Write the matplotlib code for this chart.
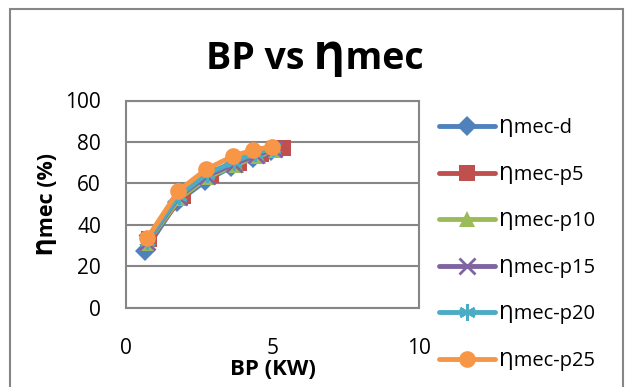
import matplotlib
matplotlib.use('Agg')
import matplotlib.pyplot as plt
from matplotlib.patches import Rectangle

plt.rcParams['font.family'] = ['Open Sans', 'DejaVu Sans']

# brake power (KW) and mechanical efficiency (%) for each fuel blend
bp_d = [0.65, 1.75, 2.70, 3.60, 4.35, 4.95]
eff_d = [27.5, 51.0, 61.0, 68.0, 72.0, 75.5]
bp_p5 = [0.80, 1.95, 2.90, 3.85, 4.60, 5.35]
eff_p5 = [33.0, 54.0, 64.0, 70.0, 74.0, 77.0]
bp_p10 = [0.70, 1.85, 2.80, 3.75, 4.50, 5.10]
eff_p10 = [31.0, 53.0, 63.0, 69.0, 73.0, 76.0]
bp_p15 = [0.70, 1.80, 2.75, 3.70, 4.45, 5.05]
eff_p15 = [31.5, 53.5, 63.5, 69.5, 73.5, 76.5]
bp_p20 = [0.70, 1.80, 2.75, 3.70, 4.40, 5.00]
eff_p20 = [32.0, 54.0, 64.5, 70.5, 74.5, 77.0]
bp_p25 = [0.72, 1.79, 2.74, 3.66, 4.34, 4.97]
eff_p25 = [33.4, 56.4, 66.8, 73.2, 76.1, 77.7]

labels = ['Ƞmec-d', 'Ƞmec-p5', 'Ƞmec-p10', 'Ƞmec-p15', 'Ƞmec-p20', 'Ƞmec-p25']
x_ticks = [0, 5, 10]
y_ticks = [0, 20, 40, 60, 80, 100]

series = [
    (bp_d, eff_d, '#4F81BD', 'D', 10),
    (bp_p5, eff_p5, '#C0504D', 's', 11),
    (bp_p10, eff_p10, '#9BBB59', '^', 11),
    (bp_p15, eff_p15, '#8064A2', 'x', 11),
    (bp_p20, eff_p20, '#4BACC6', (6, 2, 0), 12),
    (bp_p25, eff_p25, '#F79646', 'o', 12),
]

fig = plt.figure(figsize=(6.29, 3.87), dpi=100)
fig.patches.append(Rectangle((10 / 629, -0.05), 613 / 629, 1.05 - 9 / 387,
                             transform=fig.transFigure, fill=False,
                             edgecolor='#868686', linewidth=1.5))

ax = fig.add_axes([126 / 629, 1 - 307.5 / 387, 293 / 629, 207 / 387])

handles = []
for (x, y, c, m, ms), lab in zip(series, labels):
    mew = 2 if m in ('x', (6, 2, 0)) else 0
    h, = ax.plot(x, y, color=c, lw=3.5, marker=m, markersize=ms,
                 markeredgewidth=mew, markeredgecolor=c, label=lab,
                 solid_capstyle='round')
    handles.append(h)

ax.set_xlim(0, 10)
ax.set_ylim(0, 100)
ax.set_xticks(x_ticks)
ax.set_yticks(y_ticks)
ax.tick_params(length=0, labelsize=15)
ax.tick_params(axis='x', pad=22)
ax.tick_params(axis='y', pad=18)
ax.grid(axis='y', color='#868686', lw=1.5)
ax.set_axisbelow(True)
for s in ax.spines.values():
    s.set_color('#868686')
    s.set_linewidth(1.5)

ax.set_xlabel('BP (KW)', fontsize=16, fontweight='bold', labelpad=0)
ax.set_ylabel('Ƞmec (%)', fontsize=15.5, fontweight='bold', labelpad=5)
fig.text(0.5, 1 - 59 / 387, 'BP vs Ƞmec', ha='center', va='center',
         fontsize=27, fontweight='bold')

fig.legend(handles=handles, loc='upper left', bbox_to_anchor=(439 / 629, 1 - 118 / 387),
           frameon=False, fontsize=14.5, handlelength=2.8, numpoints=1,
           labelspacing=1.32, handletextpad=0.2, borderaxespad=0, borderpad=0)

fig.savefig('out.png', dpi=100)
